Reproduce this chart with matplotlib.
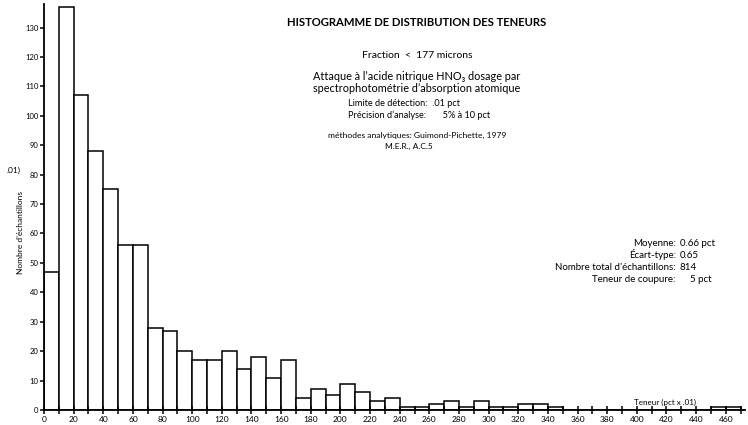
import matplotlib.pyplot as plt
from matplotlib.ticker import MultipleLocator

# Histogram of grades, bins of 10 (pct x .01)
bin_starts = list(range(0, 480, 10))
counts = [47, 137, 107, 88, 75, 56, 56, 28, 27, 20,
          17, 17, 20, 14, 18, 11, 17, 4, 7, 5,
          9, 6, 3, 4, 1, 1, 2, 3, 1, 3,
          1, 1, 2, 2, 1, 0, 0, 0, 0, 0,
          0, 0, 0, 0, 0, 1, 1, 0]

x_labels = list(range(0, 480, 20))
y_labels = list(range(0, 140, 10))

stat_names = ["Moyenne:", "Écart-type:", "Nombre total d\u2019échantillons:", "Teneur de coupure:"]
stat_values = ["0.66 pct", "0.65", "814", "5 pct"]

plt.rcParams["font.family"] = ["Lato", "DejaVu Sans"]

fig = plt.figure(figsize=(7.48, 4.25), dpi=100)
ax = fig.add_axes([44 / 748, 15 / 425, 701 / 748, 406 / 425])

ax.bar(bin_starts, counts, width=10, align="edge",
       facecolor="white", edgecolor="black", linewidth=1.1)

ax.set_xlim(0, 473)
ax.set_ylim(0, 138)
for side in ("top", "right"):
    ax.spines[side].set_visible(False)
for side in ("left", "bottom"):
    ax.spines[side].set_linewidth(1.3)

ax.set_xticks(x_labels)
ax.set_xticklabels([str(v) for v in x_labels])
ax.xaxis.set_minor_locator(MultipleLocator(10))
ax.set_yticks(y_labels)
ax.tick_params(axis="x", which="both", direction="inout", length=6, width=1.1,
               labelsize=6, pad=1)
ax.tick_params(axis="y", direction="out", length=3, width=1.1, labelsize=5.5, pad=1)


def ty(y):
    return 1 - y / 425


fig.text(21 / 748, ty(233), "Nombre d\u2019échantillons", fontsize=6,
         rotation=90, ha="center", va="center")
fig.text(7 / 748, ty(170), ".01)", fontsize=6, ha="left", va="center")
fig.text(665 / 748, ty(402), "Teneur (pct x .01)", fontsize=5.8, ha="center", va="center")

# header block
cx = 417 / 748
fig.text(cx, ty(22), "HISTOGRAMME DE DISTRIBUTION DES TENEURS",
         fontsize=8.1, fontweight="bold", ha="center", va="center")
fig.text(cx, ty(55), "Fraction  <  177 microns", fontsize=7.5, ha="center", va="center")
fig.text(cx, ty(76), "Attaque à l\u2019acide nitrique HNO\u2083 dosage par",
         fontsize=7.8, ha="center", va="center")
fig.text(cx, ty(88), "spectrophotométrie d\u2019absorption atomique",
         fontsize=7.8, ha="center", va="center")
fig.text(348 / 748, ty(104), "Limite de détection:  .01 pct", fontsize=6.6, ha="left", va="center")
fig.text(348 / 748, ty(115), "Précision d\u2019analyse:       5% à 10 pct", fontsize=6.6,
         ha="left", va="center")
fig.text(cx, ty(135), "méthodes analytiques: Guimond-Pichette, 1979", fontsize=6.1,
         ha="center", va="center")
fig.text(409 / 748, ty(146), "M.E.R., A.C.5", fontsize=6, ha="center", va="center")

# summary statistics
for i, (name, val) in enumerate(zip(stat_names, stat_values)):
    y = ty(243 + 12 * i)
    fig.text(676 / 748, y, name, fontsize=7, ha="right", va="center")
    if i == 3:
        fig.text(712 / 748, y, val, fontsize=7, ha="right", va="center")
    else:
        fig.text(680 / 748, y, val, fontsize=7, ha="left", va="center")

fig.savefig("out.png", dpi=100)
